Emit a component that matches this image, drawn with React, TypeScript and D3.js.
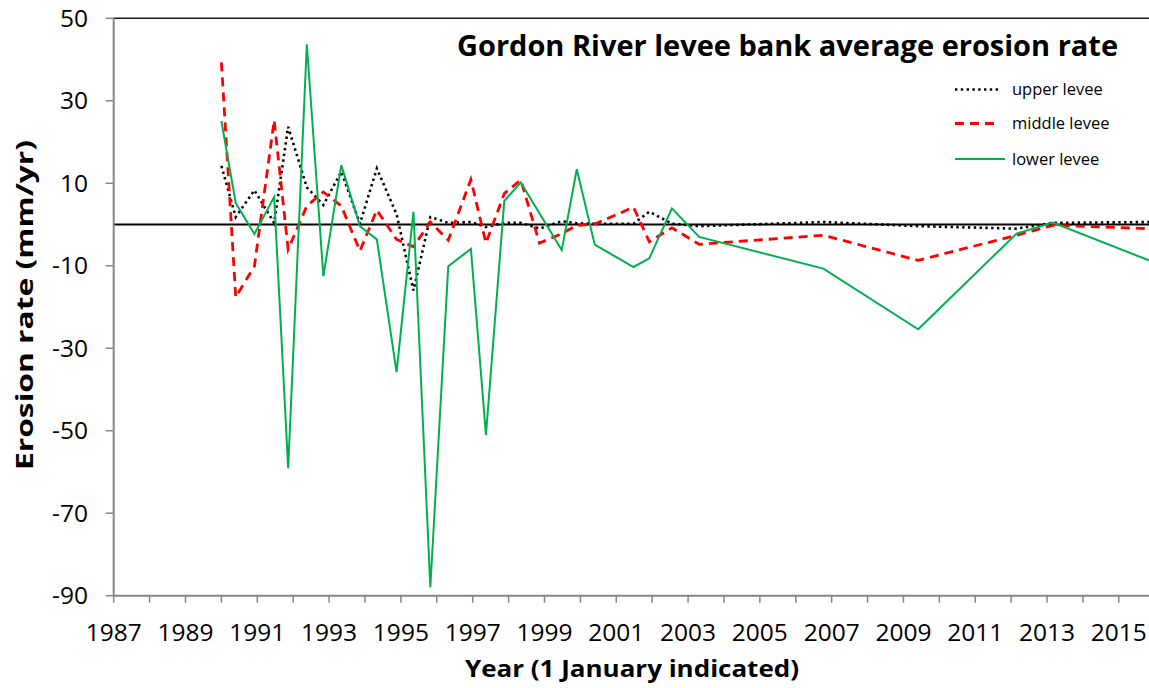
import React from "react";
import * as d3 from "d3";

const dates = [1990.0, 1990.4, 1990.92, 1991.47, 1991.86, 1992.38, 1992.84, 1993.34, 1993.86, 1994.33, 1994.88, 1995.35, 1995.82, 1996.32, 1996.95, 1997.37, 1997.88, 1998.34, 1998.86, 1999.48, 1999.9, 2000.4, 2001.48, 2001.92, 2002.55, 2003.31, 2006.77, 2009.41, 2012.15, 2013.16, 2015.84];
const upperLevee = [14.2, 1.8, 8.3, 0.4, 23.7, 9.0, 4.7, 12.8, 0.2, 13.6, 2.5, -16.0, 1.8, 0.4, 0.6, -0.6, 0.4, 0.4, -1.0, 0.8, 0.3, 0.2, 0.2, 3.1, 0.2, -0.4, 0.6, -0.4, -1.0, 0.4, 0.6];
const middleLevee = [39.3, -17.6, -10.1, 25.3, -6.0, 4.5, 7.9, 4.5, -6.4, 3.5, -3.6, -5.4, 0.6, -3.8, 10.9, -4.5, 7.5, 10.8, -4.5, -2.2, -0.2, 0.1, 4.2, -4.2, -0.8, -4.8, -2.6, -8.7, -2.6, -0.2, -1.0];
const lowerLevee: (number | null)[] = [25.1, 5.2, -2.3, 6.7, -59.1, 43.7, -12.5, 14.4, -0.4, -3.6, -35.8, 3.1, -88.0, -10.1, -5.9, -51.0, 5.7, 10.2, null, -6.2, 13.4, -4.9, -10.3, -8.2, 3.9, -3.0, -10.7, -25.4, -2.2, 0.5, -8.7];

const seriesNames = ["upper levee", "middle levee", "lower levee"];
const yTicks = [-90, -70, -50, -30, -10, 10, 30, 50];
const xLabelYears = [1987, 1989, 1991, 1993, 1995, 1997, 1999, 2001, 2003, 2005, 2007, 2009, 2011, 2013, 2015];
const xMinorYears = d3.range(1987, 2016);
const title = "Gordon River levee bank average erosion rate";
const xTitle = "Year (1 January indicated)";
const yTitle = "Erosion rate (mm/yr)";

const W = 1149;
const H = 688;
const L = 113.7, R = 1149, T = 18.3, B = 595.7;
const FONT = "'Open Sans', 'Liberation Sans', sans-serif";

export default function App() {
  const x = d3.scaleLinear().domain([1987, 2015.84]).range([L, R]);
  const y = d3.scaleLinear().domain([-90, 50]).range([B, T]);

  const mk = (vals: (number | null)[]) => {
    const pts = dates
      .map((d, i) => [d, vals[i]] as [number, number | null])
      .filter((p) => p[1] !== null) as [number, number][];
    return d3.line<[number, number]>().x((p) => x(p[0])).y((p) => y(p[1]))(pts) || "";
  };

  const styles = [
    { stroke: "#000000", width: 2.6, dash: "2.4 3.4" },
    { stroke: "#FF0000", width: 2.8, dash: "9 6" },
    { stroke: "#00B050", width: 2, dash: "none" },
  ];
  const data = [upperLevee, middleLevee, lowerLevee];
  const legendY = [89.5, 123.5, 159];
  const legendLen = [45, 42, 50];

  const axisColor = "#868686";

  return (
    <svg width={W} height={H} style={{ position: "absolute", left: 0, top: 0, background: "#fff" }}>
      <defs>
        <clipPath id="clip">
          <rect x={L} y={T - 5} width={R - L + 5} height={B - T + 10} />
        </clipPath>
      </defs>
      <rect x={0} y={0} width={W} height={H} fill="#fff" />
      {/* top border */}
      <line x1={L} x2={R} y1={T} y2={T} stroke="#1a1a1a" strokeWidth={1.5} />
      {/* zero line */}
      <line x1={L} x2={R} y1={y(0)} y2={y(0)} stroke="#000" strokeWidth={2} />

      {/* series */}
      <g clipPath="url(#clip)">
        {data.map((vals, i) => (
          <path
            key={i}
            d={mk(vals)}
            fill="none"
            stroke={styles[i].stroke}
            strokeWidth={styles[i].width}
            strokeDasharray={styles[i].dash}
            strokeLinejoin="miter"
          />
        ))}
      </g>

      {/* y axis */}
      <line x1={L} x2={L} y1={T} y2={B} stroke={axisColor} strokeWidth={2} />
      {yTicks.map((t) => (
        <g key={t}>
          <line x1={L - 8} x2={L} y1={y(t)} y2={y(t)} stroke={axisColor} strokeWidth={1.5} />
          <text x={88} y={y(t)} dy="0.35em" textAnchor="end" fontFamily={FONT} fontSize={24.5} fill="#000">
            {t}
          </text>
        </g>
      ))}

      {/* x axis */}
      <line x1={L} x2={R} y1={B} y2={B} stroke={axisColor} strokeWidth={2} />
      {xMinorYears.map((t) => (
        <line key={t} x1={x(t)} x2={x(t)} y1={B} y2={B + 7} stroke={axisColor} strokeWidth={1.5} />
      ))}
      {xLabelYears.map((t) => (
        <text key={t} x={x(t)} y={641} textAnchor="middle" fontFamily={FONT} fontSize={24.5} fill="#000">
          {t}
        </text>
      ))}

      {/* axis titles */}
      <text x={632} y={677} textAnchor="middle" fontFamily={FONT} fontSize={24} fontWeight="bold" fill="#000"
        textLength={334} lengthAdjust="spacingAndGlyphs">
        {xTitle}
      </text>
      <text transform={`translate(33,${305}) rotate(-90)`} textAnchor="middle" fontFamily={FONT} fontSize={24}
        fontWeight="bold" fill="#000" textLength={330} lengthAdjust="spacingAndGlyphs">
        {yTitle}
      </text>

      {/* title */}
      <text x={457} y={56} fontFamily={FONT} fontSize={29} fontWeight="bold" fill="#000"
        textLength={661} lengthAdjust="spacingAndGlyphs">
        {title}
      </text>

      {/* legend */}
      {seriesNames.map((n, i) => (
        <g key={n}>
          <line x1={955} x2={955 + legendLen[i]} y1={legendY[i]} y2={legendY[i]} stroke={styles[i].stroke}
            strokeWidth={styles[i].width} strokeDasharray={styles[i].dash} />
          <text x={1012} y={legendY[i]} dy="0.35em" fontFamily={FONT} fontSize={16.5} fill="#000">
            {n}
          </text>
        </g>
      ))}
    </svg>
  );
}
